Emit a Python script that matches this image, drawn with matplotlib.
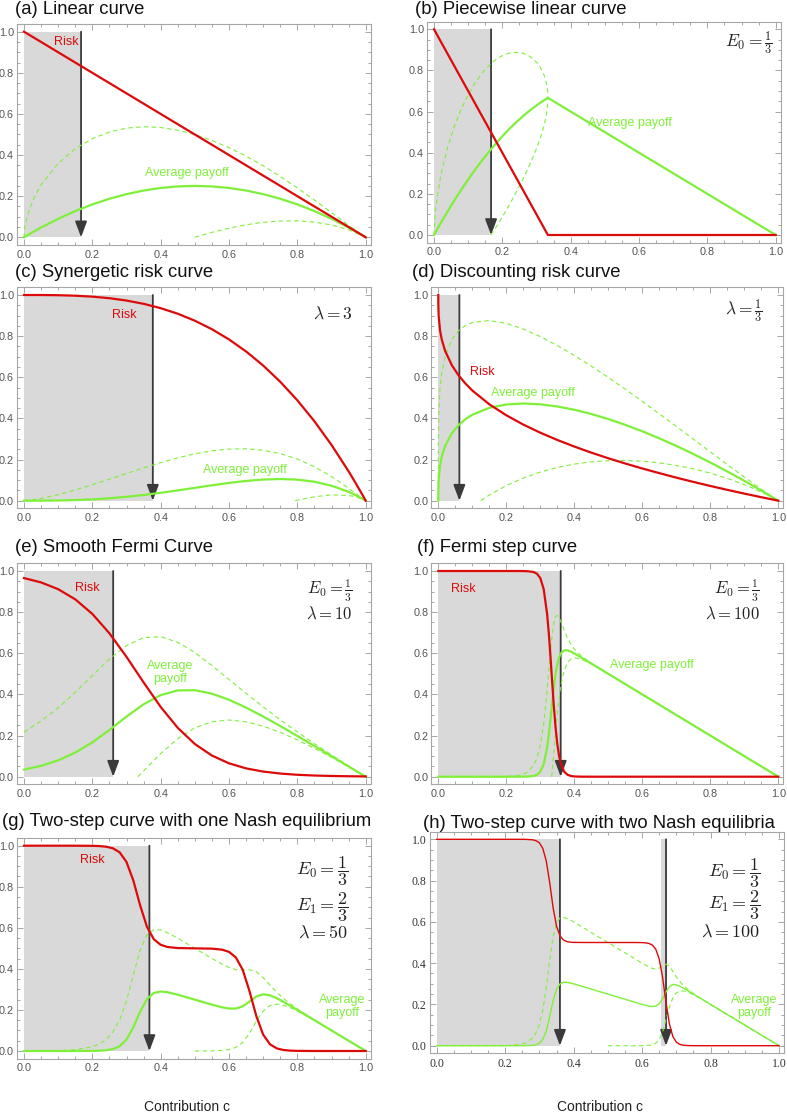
import matplotlib
matplotlib.use("Agg")
import matplotlib.pyplot as plt
from matplotlib.ticker import MultipleLocator, FormatStrFormatter

plt.rcParams["font.family"] = ["Liberation Sans", "DejaVu Sans"]
plt.rcParams["mathtext.fontset"] = "cm"

W, H = 787, 1113

# ---- (a) linear curve ----
A_C = [0, 0.002, 0.01, 0.03, 0.05, 0.1, 0.15, 0.2, 0.25, 0.3, 0.35, 0.4, 0.45, 0.5,
       0.55, 0.6, 0.65, 0.7, 0.75, 0.8, 0.85, 0.9, 0.95, 1.0]
A_RISK = [1, 0.998, 0.99, 0.97, 0.95, 0.9, 0.85, 0.8, 0.75, 0.7, 0.65, 0.6, 0.55, 0.5,
          0.45, 0.4, 0.35, 0.3, 0.25, 0.2, 0.15, 0.1, 0.05, 0]
A_MEAN = [0, 0.002, 0.0099, 0.0291, 0.0475, 0.09, 0.1275, 0.16, 0.1875, 0.21, 0.2275, 0.24,
          0.2475, 0.25, 0.2475, 0.24, 0.2275, 0.21, 0.1875, 0.16, 0.1275, 0.09, 0.0475, 0]
A_UPPER = [0, 0.047, 0.108, 0.195, 0.255, 0.36, 0.431, 0.48, 0.512, 0.531, 0.538, 0.534,
           0.521, 0.5, 0.471, 0.436, 0.395, 0.348, 0.296, 0.24, 0.181, 0.12, 0.058, 0]
A_LOW_C = [0.5, 0.55, 0.6, 0.65, 0.7, 0.75, 0.8, 0.85, 0.9, 0.95, 1.0]
A_LOWER = [0, 0.024, 0.044, 0.061, 0.073, 0.079, 0.08, 0.074, 0.06, 0.037, 0]

# ---- (b) piecewise linear ----
B_RISK_C = [0, 0.3333, 1.0]
B_RISK = [1, 0, 0]
B_MEAN_C = [0, 0.005, 0.02, 0.04, 0.06, 0.08, 0.1, 0.12, 0.14, 0.1667, 0.18, 0.2, 0.22,
            0.24, 0.26, 0.28, 0.3, 0.31, 0.32, 0.325, 0.33, 0.3333, 1.0]
B_MEAN = [0, 0.0149, 0.0588, 0.1152, 0.1692, 0.2208, 0.27, 0.3168, 0.3612, 0.4167, 0.4428,
          0.48, 0.5148, 0.5472, 0.5772, 0.6048, 0.63, 0.6417, 0.6528, 0.6581, 0.6633, 0.6667, 0]
B_UP_C = [0, 0.005, 0.02, 0.04, 0.06, 0.08, 0.1, 0.12, 0.14, 0.1667, 0.18, 0.2, 0.22, 0.24,
          0.26, 0.28, 0.3, 0.31, 0.32, 0.325, 0.33, 0.332, 0.333, 0.3333]
B_UPPER = [0, 0.136, 0.2915, 0.427, 0.53, 0.614, 0.682, 0.739, 0.786, 0.833, 0.8515, 0.872,
           0.884, 0.888, 0.884, 0.869, 0.84, 0.818, 0.786, 0.7635, 0.73, 0.7075, 0.6874, 0.6667]
B_LOW_C = [0.1667, 0.18, 0.2, 0.22, 0.24, 0.26, 0.28, 0.3, 0.31, 0.32, 0.325, 0.33, 0.332,
           0.333, 0.3333]
B_LOWER = [0, 0.0341, 0.088, 0.145, 0.206, 0.271, 0.341, 0.42, 0.466, 0.5195, 0.5527, 0.5966,
           0.6231, 0.6452, 0.6667]

# ---- (c) synergetic, lambda = 3 ----
C_C = [0, 0.05, 0.1, 0.15, 0.2, 0.25, 0.3, 0.35, 0.4, 0.45, 0.5, 0.55, 0.6, 0.65, 0.7, 0.75,
       0.8, 0.85, 0.9, 0.95, 0.97, 0.99, 1.0]
C_RISK = [1, 0.9999, 0.999, 0.9966, 0.992, 0.9844, 0.973, 0.9571, 0.936, 0.9089, 0.875,
          0.8336, 0.784, 0.7254, 0.657, 0.5781, 0.488, 0.3859, 0.271, 0.1426, 0.0873, 0.0297, 0]
C_MEAN = [0, 0.0001, 0.0009, 0.0029, 0.0064, 0.0117, 0.0189, 0.0279, 0.0384, 0.0501, 0.0625,
          0.0749, 0.0864, 0.0961, 0.1029, 0.1055, 0.1024, 0.0921, 0.0729, 0.0429, 0.0274,
          0.0097, 0]
C_UPPER = [0, 0.0107, 0.0293, 0.0522, 0.0777, 0.1047, 0.1324, 0.1595, 0.1853, 0.2084, 0.2279,
           0.2425, 0.251, 0.2523, 0.2453, 0.2289, 0.2024, 0.1651, 0.1174, 0.0604, 0.0359,
           0.0114, 0]
C_LOW_C = [0.7937, 0.8, 0.85, 0.9, 0.95, 0.97, 0.99, 1.0]
C_LOWER = [0, 0.0024, 0.0191, 0.0285, 0.0254, 0.0189, 0.008, 0]

# ---- (d) discounting, lambda = 1/3 ----
D_C = [0, 0.0001, 0.001, 0.005, 0.01, 0.02, 0.04, 0.06, 0.08, 0.1, 0.15, 0.2, 0.25, 0.3,
       0.35, 0.4, 0.45, 0.5, 0.55, 0.6, 0.65, 0.7, 0.75, 0.8, 0.85, 0.9, 0.95, 1.0]
D_RISK = [1, 0.9536, 0.9, 0.829, 0.7846, 0.7286, 0.658, 0.6085, 0.5691, 0.5358, 0.4687,
          0.4152, 0.37, 0.3306, 0.2953, 0.2632, 0.2337, 0.2063, 0.1807, 0.1566, 0.134, 0.1121,
          0.0914, 0.0717, 0.0527, 0.0345, 0.017, 0]
D_MEAN = [0, 0.0464, 0.0999, 0.1701, 0.2132, 0.266, 0.3283, 0.368, 0.3964, 0.4178, 0.4516,
          0.4678, 0.4725, 0.4686, 0.4581, 0.4421, 0.4215, 0.3969, 0.3687, 0.3374, 0.3031,
          0.2664, 0.2272, 0.1857, 0.1421, 0.0966, 0.0492, 0]
D_UPPER = [0, 0.2568, 0.3996, 0.5447, 0.6202, 0.7018, 0.7837, 0.8268, 0.852, 0.8666, 0.8758,
           0.862, 0.8346, 0.7979, 0.7546, 0.7063, 0.6543, 0.5992, 0.5419, 0.4828, 0.4223,
           0.3611, 0.2993, 0.2373, 0.1756, 0.1149, 0.0557, 0]
D_LOW_C = [0.125, 0.15, 0.2, 0.25, 0.3, 0.35, 0.4, 0.45, 0.5, 0.55, 0.6, 0.65, 0.7, 0.75,
           0.8, 0.85, 0.9, 0.95, 1.0]
D_LOWER = [0, 0.0274, 0.0736, 0.1104, 0.1393, 0.1616, 0.1779, 0.1887, 0.1946, 0.1955, 0.192,
           0.1839, 0.1717, 0.1551, 0.1341, 0.1086, 0.0783, 0.0427, 0]

# ---- (e) smooth Fermi, E0 = 1/3, lambda = 10 ----
E_C = [0, 0.05, 0.1, 0.15, 0.2, 0.25, 0.3, 0.35, 0.4, 0.45, 0.5, 0.55, 0.6, 0.65, 0.7, 0.75,
       0.8, 0.85, 0.9, 0.95, 1.0]
E_RISK = [0.9656, 0.9445, 0.9116, 0.8622, 0.7914, 0.6971, 0.5826, 0.4584, 0.3392, 0.2375,
          0.1589, 0.1028, 0.065, 0.0404, 0.0249, 0.0153, 0.0093, 0.0057, 0.0035, 0.0021, 0.0013]
E_MEAN = [0.0344, 0.0528, 0.0796, 0.1171, 0.1669, 0.2272, 0.2922, 0.352, 0.3965, 0.4194,
          0.4206, 0.4037, 0.374, 0.3359, 0.2925, 0.2462, 0.1981, 0.1491, 0.0997, 0.0499, 0]
E_UPPER = [0.2168, 0.2704, 0.3351, 0.4101, 0.4919, 0.5718, 0.6374, 0.6759, 0.6805, 0.6535,
           0.6034, 0.5404, 0.4726, 0.4049, 0.3393, 0.2769, 0.2173, 0.1604, 0.1056, 0.0522, 0]
E_LOW_C = [0.3333, 0.35, 0.4, 0.45, 0.5, 0.55, 0.6, 0.65, 0.7, 0.75, 0.8, 0.85, 0.9, 0.95, 1.0]
E_LOWER = [0, 0.0281, 0.1125, 0.1853, 0.2378, 0.267, 0.2754, 0.2669, 0.2457, 0.2155, 0.1789,
           0.1378, 0.0938, 0.0476, 0]

# ---- (f) Fermi step, E0 = 1/3, lambda = 100 ----
F_C = [0, 0.2, 0.24, 0.26, 0.28, 0.29, 0.3, 0.31, 0.32, 0.325, 0.33, 0.3333, 0.337, 0.34,
       0.345, 0.35, 0.355, 0.36, 0.37, 0.38, 0.39, 0.4, 0.42, 0.45, 0.5, 1.0]
F_RISK = [1, 1, 0.9999, 0.9993, 0.9952, 0.987, 0.9656, 0.9116, 0.7914, 0.6971, 0.5826, 0.5,
          0.4093, 0.3392, 0.2375, 0.1589, 0.1028, 0.065, 0.0249, 0.0093, 0.0035, 0.0013,
          0.0002, 0, 0, 0]
F_MEAN = [0, 0, 0.0001, 0.0005, 0.0035, 0.0092, 0.0241, 0.061, 0.1418, 0.2045, 0.2797, 0.3333,
          0.3916, 0.4361, 0.4994, 0.5467, 0.5787, 0.5984, 0.6143, 0.6142, 0.6079, 0.5992,
          0.5799, 0.55, 0.5, 0]
F_UPPER = [0, 0, 0.0072, 0.0194, 0.0533, 0.0895, 0.1518, 0.2569, 0.4181, 0.5147, 0.6101,
           0.6667, 0.7176, 0.7485, 0.7782, 0.7843, 0.7746, 0.7562, 0.7125, 0.6738, 0.6436,
           0.6206, 0.5875, 0.5516, 0.5, 0]
F_LOW_C = [0.3333, 0.337, 0.34, 0.345, 0.35, 0.355, 0.36, 0.37, 0.38, 0.39, 0.4, 0.42, 0.45,
           0.5, 1.0]
F_LOWER = [0, 0.0656, 0.1237, 0.2206, 0.3091, 0.3828, 0.4406, 0.5161, 0.5546, 0.5722, 0.5778,
           0.5723, 0.5484, 0.5, 0]

# ---- (g) two-step, one Nash equilibrium, lambda = 50 ----
G_C = [0, 0.1, 0.15, 0.2, 0.22, 0.24, 0.26, 0.28, 0.3, 0.32, 0.34, 0.36, 0.38, 0.4, 0.42,
       0.45, 0.5, 0.55, 0.58, 0.6, 0.62, 0.64, 0.66, 0.68, 0.7, 0.72, 0.74, 0.76, 0.78, 0.8,
       0.85, 0.9, 0.95, 1.0]
G_RISK = [1, 1, 0.99995, 0.99936, 0.99828, 0.99534, 0.98754, 0.96752, 0.92056, 0.83038,
          0.70872, 0.6043, 0.5442, 0.51722, 0.50648, 0.50145, 0.5, 0.49855, 0.49353, 0.48278,
          0.4558, 0.3957, 0.29129, 0.16962, 0.07944, 0.03249, 0.01246, 0.00466, 0.00173,
          0.00064, 0.00005, 0, 0, 0]
G_MEAN = [0, 0, 0, 0.0005, 0.0013, 0.0035, 0.0092, 0.0234, 0.0556, 0.1153, 0.1922, 0.2533,
          0.2826, 0.2897, 0.2862, 0.2742, 0.25, 0.2257, 0.2127, 0.2069, 0.2068, 0.2176, 0.241,
          0.2657, 0.2762, 0.2709, 0.2568, 0.2389, 0.2196, 0.1999, 0.15, 0.1, 0.05, 0]
G_UPPER = [0, 0.0018, 0.006, 0.0207, 0.0336, 0.0553, 0.0913, 0.1511, 0.2449, 0.3705, 0.4921,
           0.5663, 0.5914, 0.5895, 0.5762, 0.5492, 0.5, 0.4507, 0.4227, 0.4068, 0.396, 0.3936,
           0.3955, 0.3858, 0.3573, 0.3205, 0.2856, 0.2552, 0.2287, 0.205, 0.1511, 0.1002,
           0.05, 0]
G_LOW_C = [0.5, 0.55, 0.58, 0.6, 0.62, 0.64, 0.66, 0.68, 0.7, 0.72, 0.74, 0.76, 0.78, 0.8,
           0.85, 0.9, 0.95, 1.0]
G_LOWER = [0, 0.0007, 0.0027, 0.007, 0.0176, 0.0416, 0.0865, 0.1456, 0.1951, 0.2213, 0.228,
           0.2226, 0.2105, 0.1948, 0.1489, 0.0998, 0.05, 0]

# ---- (h) two-step, two Nash equilibria, lambda = 100 ----
H_C = [0, 0.2, 0.24, 0.26, 0.28, 0.29, 0.3, 0.31, 0.32, 0.33, 0.34, 0.35, 0.36, 0.37, 0.38,
       0.39, 0.4, 0.42, 0.45, 0.5, 0.55, 0.58, 0.6, 0.61, 0.62, 0.63, 0.64, 0.65, 0.66, 0.67,
       0.68, 0.69, 0.7, 0.71, 0.72, 0.73, 0.74, 0.76, 0.8, 0.9, 1.0]
H_RISK = [1, 1, 1, 0.9997, 0.9976, 0.9935, 0.9828, 0.9558, 0.8957, 0.7913, 0.6696, 0.5794,
          0.5325, 0.5125, 0.5047, 0.5017, 0.5006, 0.5001, 0.5, 0.5, 0.5, 0.4999, 0.4994,
          0.4983, 0.4953, 0.4875, 0.4675, 0.4206, 0.3304, 0.2087, 0.1043, 0.0442, 0.0172,
          0.0065, 0.0024, 0.0009, 0.0003, 0, 0, 0, 0]
H_MEAN = [0, 0, 0, 0.0002, 0.0017, 0.0046, 0.0121, 0.0305, 0.0709, 0.1398, 0.2181, 0.2734,
          0.2992, 0.3072, 0.3071, 0.3039, 0.2996, 0.29, 0.275, 0.25, 0.225, 0.21, 0.2003,
          0.1957, 0.1918, 0.1896, 0.1917, 0.2028, 0.2277, 0.2611, 0.2866, 0.2963, 0.2948,
          0.2881, 0.2793, 0.2698, 0.2599, 0.24, 0.2, 0.1, 0]
H_UPPER = [0, 0, 0.0048, 0.0134, 0.0369, 0.0615, 0.1032, 0.1723, 0.2788, 0.4121, 0.5286,
           0.5942, 0.6185, 0.6221, 0.6171, 0.6089, 0.5996, 0.58, 0.55, 0.5, 0.45, 0.42, 0.4003,
           0.3907, 0.3818, 0.3745, 0.3713, 0.3756, 0.3876, 0.3952, 0.3844, 0.36, 0.3338,
           0.3114, 0.293, 0.2778, 0.2646, 0.2415, 0.2, 0.1, 0]
H_LOW_C = [0.5, 0.55, 0.58, 0.6, 0.61, 0.62, 0.63, 0.64, 0.65, 0.66, 0.67, 0.68, 0.69, 0.7,
           0.71, 0.72, 0.73, 0.74, 0.76, 0.8, 0.9, 1.0]
H_LOWER = [0, 0, 0, 0.0003, 0.0007, 0.0018, 0.0047, 0.0121, 0.03, 0.0678, 0.127, 0.1888,
           0.2326, 0.2558, 0.2648, 0.2656, 0.2618, 0.2552, 0.2385, 0.2, 0.1, 0]

# equilibrium contributions (arrows) and shaded basins
A_EQ, B_EQ, C_EQ, D_EQ = 0.167, 0.167, 0.377, 0.062
E_EQ, F_EQ, G_EQ = 0.261, 0.36, 0.367
H_EQ = [0.36, 0.67]
H_BASIN2 = 0.655

TITLES = ["(a) Linear curve", "(b) Piecewise linear curve", "(c) Synergetic risk curve",
          "(d) Discounting risk curve", "(e) Smooth Fermi Curve", "(f) Fermi step curve",
          "(g) Two-step curve with one Nash equilibrium",
          "(h) Two-step curve with two Nash equilibria"]

RED = "#dd0a0a"
GREEN = "#7ff03a"
SHADE = "#d9d9d9"
ARROW = "#3a3a3a"
FRAME = "#a6a6a6"
XL, XR, YB, YT = -0.021, 1.015, -0.037, 1.037

fig = plt.figure(figsize=(W / 100, H / 100), dpi=100)


def make_axes(x0, x1, y1, y0):
    """pixel positions of data x=0, x=1, y=1, y=0 -> axes"""
    left = x0 + XL * (x1 - x0)
    right = x0 + XR * (x1 - x0)
    top = y0 - YT * (y0 - y1)
    bot = y0 - YB * (y0 - y1)
    ax = fig.add_axes([left / W, 1 - bot / H, (right - left) / W, (bot - top) / H])
    ax.set_xlim(XL, XR)
    ax.set_ylim(YB, YT)
    for s in ax.spines.values():
        s.set_color(FRAME)
        s.set_linewidth(0.8)
    ax.xaxis.set_major_locator(MultipleLocator(0.2))
    ax.yaxis.set_major_locator(MultipleLocator(0.2))
    ax.xaxis.set_minor_locator(MultipleLocator(0.05))
    ax.yaxis.set_minor_locator(MultipleLocator(0.05))
    ax.xaxis.set_major_formatter(FormatStrFormatter("%.1f"))
    ax.yaxis.set_major_formatter(FormatStrFormatter("%.1f"))
    ax.tick_params(which="both", direction="in", top=True, right=True, color=FRAME,
                   width=0.7, labelsize=7.8, labelcolor="#555555")
    ax.tick_params(which="major", length=4)
    ax.tick_params(which="minor", length=2.2)
    ax.tick_params(axis="y", pad=2)
    return ax


def basin(ax, x0, x1):
    ax.fill_between([x0, x1], 0, 1, color=SHADE, lw=0, zorder=1)


def arrow(ax, x):
    ax.annotate("", xy=(x, 0), xytext=(x, 1),
                arrowprops=dict(arrowstyle="-|>,head_length=0.8,head_width=0.3",
                                color=ARROW, lw=1.3, shrinkA=0, shrinkB=0,
                                mutation_scale=12), zorder=3)


def curves(ax, rc, r, mc, m, uc, u, lc, l, lw=1.6):
    ax.plot(uc, u, color=GREEN, lw=0.8, ls=(0, (4, 3)), zorder=4)
    ax.plot(lc, l, color=GREEN, lw=0.8, ls=(0, (4, 3)), zorder=4)
    ax.plot(mc, m, color=GREEN, lw=lw, zorder=5)
    ax.plot(rc, r, color=RED, lw=lw, zorder=6)


def label(ax, x, y, s, color, **kw):
    ax.text(x, y, s, color=color, fontsize=9, ha="center", va="center", zorder=7,
            linespacing=1.1, **kw)


def param(ax, x, y, s, size=12):
    ax.text(x, y, s, fontsize=size, ha="right", va="center", color="#222222", zorder=7)


# (a)
ax = make_axes(24, 365.7, 31.7, 237.3)
basin(ax, 0, A_EQ)
arrow(ax, A_EQ)
curves(ax, A_C, A_RISK, A_C, A_MEAN, A_C, A_UPPER, A_LOW_C, A_LOWER)
label(ax, 0.125, 0.95, "Risk", RED)
label(ax, 0.476, 0.314, "Average payoff", GREEN)

# (b)
ax = make_axes(434, 775.7, 29.3, 235)
basin(ax, 0, B_EQ)
arrow(ax, B_EQ)
curves(ax, B_RISK_C, B_RISK, B_MEAN_C, B_MEAN, B_UP_C, B_UPPER, B_LOW_C, B_LOWER)
label(ax, 0.573, 0.543, "Average payoff", GREEN)
param(ax, 0.99, 0.93, r"$E_0=\frac{1}{3}$", 12.5)

# (c)
ax = make_axes(24, 365.7, 295, 500.7)
basin(ax, 0, C_EQ)
arrow(ax, C_EQ)
curves(ax, C_C, C_RISK, C_C, C_MEAN, C_C, C_UPPER, C_LOW_C, C_LOWER)
label(ax, 0.294, 0.903, "Risk", RED)
label(ax, 0.647, 0.149, "Average payoff", GREEN)
param(ax, 0.962, 0.911, r"$\lambda=3$", 12.5)

# (d)
ax = make_axes(438.3, 778.3, 295, 500.7)
basin(ax, 0, D_EQ)
arrow(ax, D_EQ)
curves(ax, D_C, D_RISK, D_C, D_MEAN, D_C, D_UPPER, D_LOW_C, D_LOWER)
label(ax, 0.13, 0.627, "Risk", RED)
label(ax, 0.277, 0.522, "Average payoff", GREEN)
param(ax, 0.955, 0.919, r"$\lambda=\frac{1}{3}$", 12.5)

# (e)
ax = make_axes(24, 365.7, 571, 776.7)
basin(ax, 0, E_EQ)
arrow(ax, E_EQ)
curves(ax, E_C, E_RISK, E_C, E_MEAN, E_C, E_UPPER, E_LOW_C, E_LOWER)
label(ax, 0.185, 0.916, "Risk", RED)
label(ax, 0.427, 0.506, "Average\npayoff", GREEN)
param(ax, 0.961, 0.905, r"$E_0=\frac{1}{3}$")
param(ax, 0.961, 0.795, r"$\lambda=10$")

# (f)
ax = make_axes(438.3, 778.3, 571, 776.7)
basin(ax, 0, F_EQ)
arrow(ax, F_EQ)
curves(ax, F_C, F_RISK, F_C, F_MEAN, F_C, F_UPPER, F_LOW_C, F_LOWER)
label(ax, 0.074, 0.912, "Risk", RED)
label(ax, 0.627, 0.543, "Average payoff", GREEN)
param(ax, 0.946, 0.905, r"$E_0=\frac{1}{3}$")
param(ax, 0.946, 0.795, r"$\lambda=100$")

# (g)
ax = make_axes(24, 365.7, 845.7, 1051)
basin(ax, 0, G_EQ)
arrow(ax, G_EQ)
curves(ax, G_C, G_RISK, G_C, G_MEAN, G_C, G_UPPER, G_LOW_C, G_LOWER)
label(ax, 0.2, 0.93, "Risk", RED)
label(ax, 0.93, 0.218, "Average\npayoff", GREEN)
param(ax, 0.949, 0.875, r"$E_0=\dfrac{1}{3}$", 13)
param(ax, 0.949, 0.70, r"$E_1=\dfrac{2}{3}$", 13)
param(ax, 0.949, 0.575, r"$\lambda=50$", 13)

# (h)
ax = make_axes(436.7, 779, 839.3, 1045.7)
basin(ax, 0, H_EQ[0])
basin(ax, H_BASIN2, H_EQ[1])
arrow(ax, H_EQ[0])
arrow(ax, H_EQ[1])
curves(ax, H_C, H_RISK, H_C, H_MEAN, H_C, H_UPPER, H_LOW_C, H_LOWER, lw=1.0)
label(ax, 0.928, 0.19, "Average\npayoff", GREEN)
param(ax, 0.946, 0.835, r"$E_0=\dfrac{1}{3}$", 13)
param(ax, 0.946, 0.68, r"$E_1=\dfrac{2}{3}$", 13)
param(ax, 0.946, 0.55, r"$\lambda=100$", 13)
for t in ax.get_xticklabels() + ax.get_yticklabels():
    t.set_fontfamily("Liberation Serif")
    t.set_color("#333333")
    t.set_fontsize(8.5)

# titles and axis labels
title_pos = [(15, 10), (415, 9), (15, 273), (412, 273), (15, 547), (417, 547),
             (2, 822), (423, 823)]
for (px, py), t in zip(title_pos, TITLES):
    fig.text(px / W, 1 - py / H, t, fontsize=13.3, ha="left", va="center", color="#111111")

for px in (187, 600):
    fig.text(px / W, 1 - 1107 / H, "Contribution c", fontsize=10, ha="center", va="center",
             color="#222222")

fig.savefig("out.png", dpi=100)
